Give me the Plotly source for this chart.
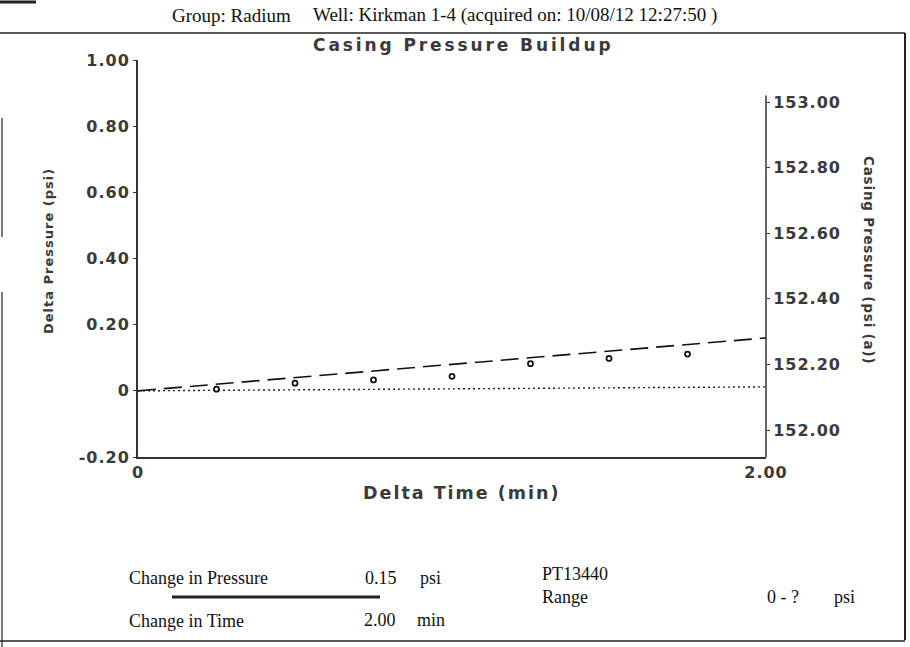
import plotly.graph_objects as go

# ---- data ----
time_min = [0.25, 0.5, 0.75, 1.0, 1.25, 1.5, 1.75]
delta_psi = [0.005, 0.023, 0.033, 0.044, 0.082, 0.098, 0.111]
trend_time = [0.0, 2.0]
trend_psi = [0.0, 0.16]
base_time = [0.0, 2.0]
base_psi = [0.0, 0.012]
casing_base = 152.122
casing_psi = [casing_base + d for d in delta_psi]

left_ticks = [-0.2, 0.0, 0.2, 0.4, 0.6, 0.8, 1.0]
left_labels = ["-0.20", "0", "0.20", "0.40", "0.60", "0.80", "1.00"]
right_ticks = [152.0, 152.2, 152.4, 152.6, 152.8, 153.0]
right_labels = ["152.00", "152.20", "152.40", "152.60", "152.80", "153.00"]
x_ticks = [0, 2]
x_labels = ["0", "2.00"]

W, H = 910, 647
L, R, T, B = 138, 766, 60, 457


def px(x):
    return (x - L) / (R - L)


def py(y):
    return (B - y) / (B - T)


def sp(s, ls):
    return '<span style="letter-spacing:%spx">%s</span>' % (ls, s)


AX = "#3a3a3a"
SANS = "DejaVu Sans"
SERIF = "Liberation Serif"

fig = go.Figure()
fig.add_trace(go.Scatter(x=trend_time, y=trend_psi, mode="lines",
                         line=dict(color="#111", width=1.6, dash="18px,8px"),
                         hoverinfo="skip", showlegend=False))
fig.add_trace(go.Scatter(x=base_time, y=base_psi, mode="lines",
                         line=dict(color="#222", width=1.4, dash="2px,3px"),
                         hoverinfo="skip", showlegend=False))
fig.add_trace(go.Scatter(x=time_min, y=delta_psi, mode="markers",
                         marker=dict(symbol="circle-open", size=5, color="#111",
                                     line=dict(width=1.8, color="#111")),
                         showlegend=False))
fig.add_trace(go.Scatter(x=time_min, y=casing_psi, mode="markers", yaxis="y2",
                         marker=dict(size=1, opacity=0), hoverinfo="skip",
                         showlegend=False))

tickfont = dict(family=SANS, size=16, color=AX, weight="bold")

fig.update_layout(
    width=W, height=H,
    margin=dict(l=L, r=W - R, t=T, b=H - B, pad=0),
    paper_bgcolor="white", plot_bgcolor="white",
    xaxis=dict(range=[0, 2], tickvals=x_ticks,
               ticktext=[sp(s, 1) for s in x_labels],
               showgrid=False, zeroline=False, showline=True,
               linecolor="#333", linewidth=1.5, ticks="", tickfont=tickfont),
    yaxis=dict(range=[-0.2, 1.0], tickvals=left_ticks,
               ticktext=[sp(s, 1) for s in left_labels],
               showgrid=False, zeroline=False, showline=True,
               linecolor="#333", linewidth=2, ticks="outside", ticklen=3,
               tickcolor="#333", tickfont=tickfont),
    yaxis2=dict(range=[151.918, 153.128], overlaying="y", side="right",
                tickvals=right_ticks, ticktext=[sp(s, 1) for s in right_labels],
                showgrid=False, zeroline=False, showline=False,
                ticks="outside", ticklen=3, tickcolor="#333",
                tickfont=tickfont),
)

# right axis line (stops a little above the top tick)
fig.add_shape(type="line", xref="paper", yref="y2", x0=1, x1=1,
              y0=151.918, y1=153.02, line=dict(color="#333", width=1.5))

ann = []


def text(x, y, s, size, family=SERIF, color="#111", anchor="left",
         weight="normal", angle=0):
    ann.append(dict(x=px(x), y=py(y), xref="paper", yref="paper", text=s,
                    showarrow=False, xanchor=anchor, yanchor="middle",
                    textangle=angle,
                    font=dict(family=family, size=size, color=color,
                              weight=weight)))


text(170, 15, "Group: Radium", 19)
text(311, 15, "Well: Kirkman 1-4 (acquired on: 10/08/12 12:27:50 )", 19)
text(463, 45, sp("<b>Casing Pressure Buildup</b>", 2.9), 17, SANS, AX, "center", "bold")
text(461, 493, sp("<b>Delta Time (min)</b>", 2.0), 17.5, SANS, AX, "center", "bold")
text(49, 251, sp("Delta Pressure (psi)", 1), 13, SANS, AX, "center", "bold", -90)
text(869, 260, sp("Casing Pressure (psi (a))", 0.8), 13.5, SANS, AX, "center", "bold", 90)

text(127, 578, "Change in Pressure", 18)
text(363, 578, "0.15", 18)
text(418, 578, "psi", 18)
text(540, 574, "PT13440", 18)
text(540, 597, "Range", 18)
text(765, 597, "0 - ?", 18)
text(832, 597, "psi", 18)
text(127, 621, "Change in Time", 18)
text(362, 620, "2.00", 18)
text(415, 620, "min", 18)

fig.update_layout(annotations=ann)


# page frame / rules (page pixel coordinates)
def pline(x0, y0, x1, y1, w=1.5, c="#222"):
    fig.add_shape(type="line", xref="paper", yref="paper",
                  x0=px(x0), y0=py(y0), x1=px(x1), y1=py(y1),
                  line=dict(color=c, width=w))


pline(0, 33, 905, 33, 1.5)
pline(905, 33, 905, 640, 2)
pline(2, 118, 2, 237, 1.2)
pline(2, 292, 2, 647, 1.2)
pline(0, 641, 905, 641, 1.5)
pline(0, 2, 36, 2, 3)
pline(172, 597, 380, 597, 3)

fig.write_html("out.html",
               config={"displayModeBar": False},
               post_script="document.body.style.margin='0';"
                           "document.body.style.overflow='hidden';")
